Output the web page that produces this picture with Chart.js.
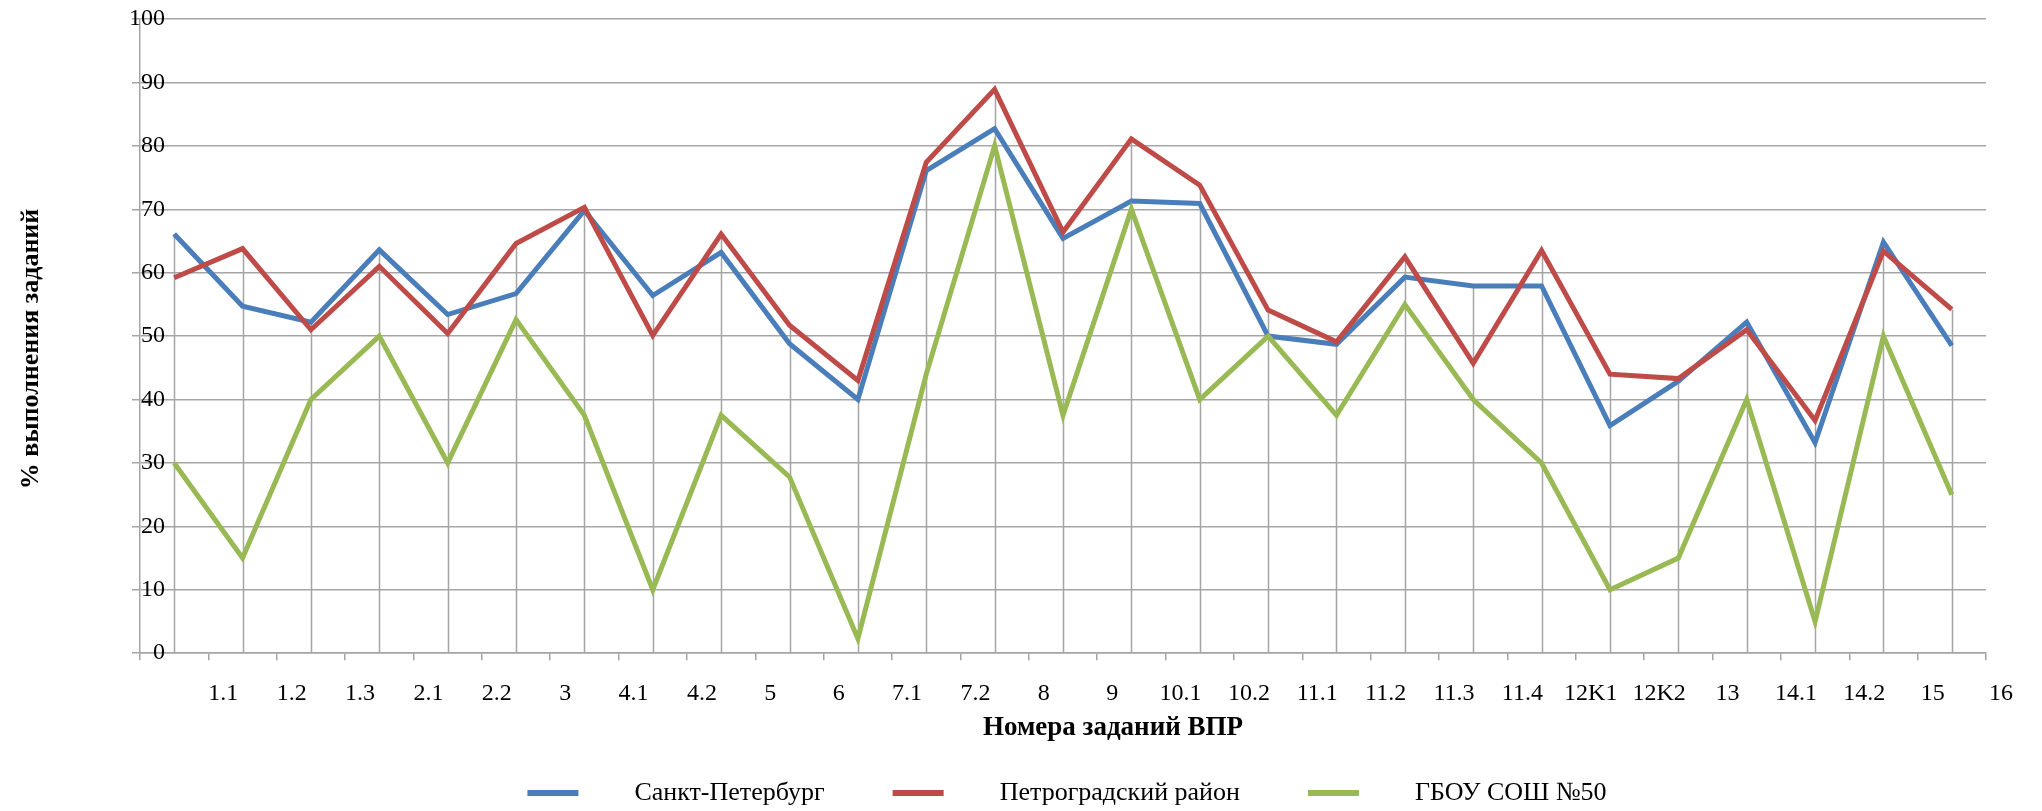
<!DOCTYPE html>
<html lang="ru">
<head>
<meta charset="utf-8">
<title>Результаты ВПР</title>
<script src="https://cdn.jsdelivr.net/npm/chart.js@4.4.1/dist/chart.umd.min.js"></script>
<style>
  html, body { margin: 0; padding: 0; background: #fff; }
  canvas { display: block; }
</style>
</head>
<body>
<canvas id="vprChart" width="2042" height="811"></canvas>
<script>
// Номера заданий ВПР (подписи оси X)
const zadaniya = ['1.1', '1.2', '1.3', '2.1', '2.2', '3', '4.1', '4.2', '5', '6', '7.1', '7.2', '8', '9',
  '10.1', '10.2', '11.1', '11.2', '11.3', '11.4', '12K1', '12K2', '13', '14.1', '14.2', '15', '16'];

// % выполнения по каждому заданию
const spb = [66.1, 54.7, 52.2, 63.6, 53.4, 56.7, 69.8, 56.4, 63.2, 48.8, 40.0, 76.1, 82.7, 65.4,
  71.3, 70.9, 50.0, 48.7, 59.3, 57.9, 57.9, 35.9, 42.9, 52.2, 33.2, 64.8, 48.5];
const petrogradsky = [59.2, 63.8, 51.0, 61.0, 50.4, 64.6, 70.3, 50.1, 66.1, 51.7, 43.0, 77.4, 88.9, 66.4,
  81.1, 73.8, 54.1, 49.1, 62.5, 45.7, 63.5, 44.0, 43.3, 51.0, 36.7, 63.4, 54.2];
const school50 = [30, 15, 40, 50, 30, 52.6, 37.5, 10, 37.5, 27.8, 2.3, 44, 80, 37.5,
  70, 40, 50, 37.5, 55, 40, 30, 10, 15, 40, 5, 50, 25];

const SERIF = "'Liberation Serif', 'Times New Roman', serif";
const GRID = '#A5A5A5';

const series = [
  { label: 'Санкт-Петербург', values: spb, color: '#4A7EBB' },
  { label: 'Петроградский район', values: petrogradsky, color: '#BE4B48' },
  { label: 'ГБОУ СОШ №50', values: school50, color: '#98B954' }
];

// вертикальные линии от максимума в каждой точке до оси X
const dropLines = {
  id: 'dropLines',
  beforeDatasetsDraw(chart) {
    const { ctx, scales: { x, y } } = chart;
    ctx.save();
    ctx.strokeStyle = GRID;
    ctx.lineWidth = 1.5;
    zadaniya.forEach((_, i) => {
      const top = Math.max(...series.map(s => s.values[i]));
      const px = Math.round(x.getPixelForValue(i)) + 0.5;
      ctx.beginPath();
      ctx.moveTo(px, y.getPixelForValue(top));
      ctx.lineTo(px, y.getPixelForValue(0));
      ctx.stroke();
    });
    ctx.restore();
  }
};

// подписи осей и легенда
const axisTexts = {
  id: 'axisTexts',
  afterDraw(chart) {
    const { ctx, chartArea } = chart;
    const mid = (chartArea.left + chartArea.right) / 2;
    ctx.save();
    ctx.fillStyle = '#000';
    ctx.textBaseline = 'middle';
    ctx.textAlign = 'center';

    ctx.font = 'bold 26px ' + SERIF;
    ctx.save();
    ctx.translate(31, 349);
    ctx.rotate(-Math.PI / 2);
    ctx.fillText('% выполнения заданий', 0, 0);
    ctx.restore();

    ctx.font = 'bold 27px ' + SERIF;
    ctx.fillText('Номера заданий ВПР', mid + 50, 728);

    ctx.font = '26px ' + SERIF;
    ctx.textAlign = 'left';
    const lineW = 51, gapText = 56, gapItem = 68;
    const widths = series.map(s => ctx.measureText(s.label).width);
    const total = widths.reduce((a, w) => a + lineW + gapText + w, 0) + gapItem * (series.length - 1);
    let x = mid + 4 - total / 2;
    const yLeg = 793;
    series.forEach((s, i) => {
      ctx.fillStyle = s.color;
      ctx.fillRect(x, yLeg - 3, lineW, 6);
      ctx.fillStyle = '#000';
      ctx.fillText(s.label, x + lineW + gapText, yLeg);
      x += lineW + gapText + widths[i] + gapItem;
    });
    ctx.restore();
  }
};

const ctx = document.getElementById('vprChart').getContext('2d');
new Chart(ctx, {
  type: 'line',
  data: {
    datasets: series.map((s, i) => ({
      label: s.label,
      data: s.values.map((v, k) => ({ x: k, y: v })),
      borderColor: s.color,
      backgroundColor: s.color,
      borderWidth: 5,
      pointRadius: 0,
      tension: 0,
      fill: false,
      order: series.length - i
    }))
  },
  options: {
    responsive: false,
    animation: false,
    events: [],
    layout: { padding: { top: 19, right: 56, bottom: 84, left: 0 } },
    plugins: {
      legend: { display: false },
      tooltip: { enabled: false }
    },
    scales: {
      x: {
        type: 'linear',
        min: -0.5,
        max: zadaniya.length - 0.5,
        // деления на границах между заданиями
        afterBuildTicks(scale) {
          scale.ticks = zadaniya.map((_, k) => ({ value: k - 0.5 }))
            .concat([{ value: zadaniya.length - 0.5 }]);
        },
        ticks: {
          autoSkip: false,
          maxRotation: 0,
          padding: 19,
          labelOffset: 15,
          color: '#000',
          font: { family: SERIF, size: 24 },
          callback: (value, index) => (index === 0 ? '' : zadaniya[index - 1])
        },
        grid: { drawOnChartArea: false, color: GRID, lineWidth: 1.5, tickLength: 7 },
        border: { color: GRID, width: 1.5 }
      },
      y: {
        min: 0,
        max: 100,
        // место слева под подпись оси
        afterFit(scale) {
          scale.width = 140;
        },
        ticks: {
          stepSize: 10,
          mirror: true,
          crossAlign: 'far',
          padding: -11,
          color: '#000',
          font: { family: SERIF, size: 24 }
        },
        grid: { color: GRID, lineWidth: 1.5, tickLength: 8 },
        border: { color: GRID, width: 1.5 }
      }
    }
  },
  plugins: [dropLines, axisTexts]
});
</script>
</body>
</html>
